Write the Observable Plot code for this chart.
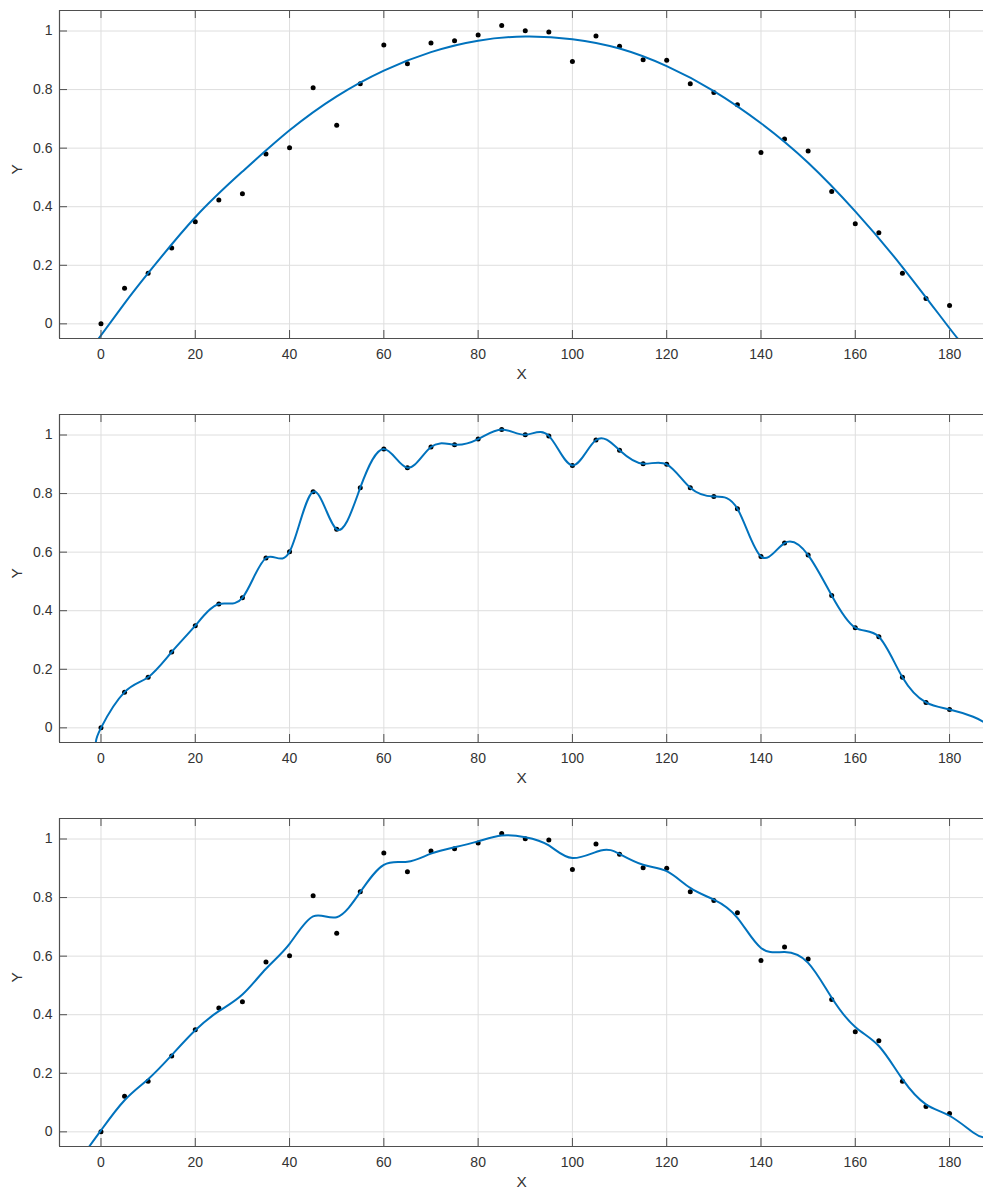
<!DOCTYPE html>
<html>
<head>
<meta charset="utf-8">
<script src="https://cdn.jsdelivr.net/npm/d3@7"></script>
<script src="https://cdn.jsdelivr.net/npm/@observablehq/plot@0.6"></script>
<style>
  html, body { margin: 0; padding: 0; background: #fff; overflow: hidden; }
  #charts svg { display: block; }
</style>
</head>
<body>
<div id="charts"></div>
<script>
// Measured samples (angle in degrees vs. response)
const xs = [0, 5, 10, 15, 20, 25, 30, 35, 40, 45, 50, 55, 60, 65, 70, 75, 80, 85, 90,
            95, 100, 105, 110, 115, 120, 125, 130, 135, 140, 145, 150, 155, 160, 165, 170, 175, 180];
const ys = [0.000, 0.122, 0.173, 0.259, 0.349, 0.423, 0.444, 0.580, 0.601, 0.806,
            0.678, 0.820, 0.952, 0.888, 0.959, 0.967, 0.986, 1.019, 1.001, 0.997,
            0.896, 0.983, 0.948, 0.902, 0.900, 0.820, 0.790, 0.748, 0.585, 0.631,
            0.590, 0.452, 0.342, 0.311, 0.173, 0.087, 0.063];

// Top panel: low-order fitted curve
const fitX = [-0.5, 5, 10, 20, 30, 40, 50, 60, 70, 80, 90, 100, 110, 120, 130, 140, 150, 160, 170, 180, 182];
const fitY = [-0.050, 0.070, 0.173, 0.364, 0.520, 0.661, 0.777, 0.865, 0.928, 0.967, 0.981,
              0.972, 0.940, 0.880, 0.795, 0.685, 0.550, 0.384, 0.194, -0.015, -0.052];

// Middle panel: interpolating spline (passes through every sample, extended at both ends)
const interpStartX = [-1.1];
const interpStartY = [-0.050];
const interpEndX = [185, 187.2];
const interpEndY = [0.038, 0.020];

// Bottom panel: smoothing spline
const smoothX = [-2.5, 0, 5, 10, 15, 20, 25, 30, 35, 40, 45, 50, 55, 60, 65, 70, 75, 80, 85, 90,
                 95, 100, 106, 110, 115, 120, 125, 130, 135, 140, 145, 150, 155, 160, 165, 170, 175, 180, 185, 187.2];
const smoothY = [-0.050, 0.005, 0.108, 0.180, 0.262, 0.347, 0.412, 0.469, 0.557, 0.642, 0.736, 0.733,
                 0.819, 0.912, 0.922, 0.950, 0.972, 0.992, 1.012, 1.006, 0.978, 0.935, 0.961, 0.949,
                 0.912, 0.890, 0.833, 0.793, 0.731, 0.628, 0.614, 0.577, 0.458, 0.358, 0.293, 0.180,
                 0.094, 0.055, -0.002, -0.019];

// Axis setup
const xDomain = [-8.8, 187.2];
const yDomain = [-0.05, 1.07];
const xTicks = [0, 20, 40, 60, 80, 100, 120, 140, 160, 180];
const yTicks = [0, 0.2, 0.4, 0.6, 0.8, 1];

const samples = xs.map((x, i) => ({x, y: ys[i]}));
const toPoints = (X, Y) => X.map((x, i) => ({x, y: Y[i]}));

const fitPts = toPoints(fitX, fitY);
const interpPts = toPoints(interpStartX, interpStartY)
  .concat(samples)
  .concat(toPoints(interpEndX, interpEndY));
const smoothPts = toPoints(smoothX, smoothY);

const BLUE = "#0072BD";
const AXIS = "#4f4f4f";
const GRID = "#dedede";
const INK = "#333333";

function panel(curvePts) {
  return Plot.plot({
    width: 983,
    height: 404,
    marginLeft: 59,
    marginRight: 0,
    marginTop: 10,
    marginBottom: 66,
    style: {
      fontFamily: "'Liberation Sans', Arial, Helvetica, sans-serif",
      fontSize: "14px",
      color: INK,
      background: "#fff",
      overflow: "visible"
    },
    x: {type: "linear", domain: xDomain},
    y: {type: "linear", domain: yDomain},
    marks: [
      // grid
      Plot.ruleX(xTicks, {x: d => d, stroke: GRID, strokeWidth: 1}),
      Plot.ruleY(yTicks, {y: d => d, stroke: GRID, strokeWidth: 1}),
      // samples
      Plot.dot(samples, {x: "x", y: "y", r: 2.5, fill: "#000", stroke: "none"}),
      // curve
      Plot.line(curvePts, {x: "x", y: "y", curve: "natural", stroke: BLUE, strokeWidth: 2, clip: true}),
      // box (top, bottom, left)
      Plot.ruleY([yDomain[1]], {y: d => d, stroke: AXIS, strokeWidth: 1}),
      Plot.ruleY([yDomain[0]], {y: d => d, stroke: AXIS, strokeWidth: 1.2}),
      Plot.ruleX([xDomain[0]], {x: d => d, stroke: AXIS, strokeWidth: 1.2}),
      // inward tick marks
      Plot.ruleX(xTicks, {x: d => d, y1: yDomain[0], y2: yDomain[0], insetTop: -8, stroke: AXIS}),
      Plot.ruleX(xTicks, {x: d => d, y1: yDomain[1], y2: yDomain[1], insetBottom: -8, stroke: AXIS}),
      Plot.ruleY(yTicks, {y: d => d, x1: xDomain[0], x2: xDomain[0], insetRight: -8, stroke: AXIS}),
      // tick labels
      Plot.axisX(xTicks, {tickSize: 0, tickPadding: 11, label: null, tickFormat: d => `${d}`}),
      Plot.axisY(yTicks, {tickSize: 0, tickPadding: 7, label: null, tickFormat: d => `${d}`}),
      // axis titles
      Plot.text(["X"], {frameAnchor: "bottom", dy: 40, text: d => d, fontSize: 15.4, fill: INK}),
      Plot.text(["Y"], {frameAnchor: "left", dx: -42, rotate: -90, text: d => d, fontSize: 15.4, fill: INK})
    ]
  });
}

const host = document.getElementById("charts");
host.append(panel(fitPts));
host.append(panel(interpPts));
host.append(panel(smoothPts));
</script>
</body>
</html>
